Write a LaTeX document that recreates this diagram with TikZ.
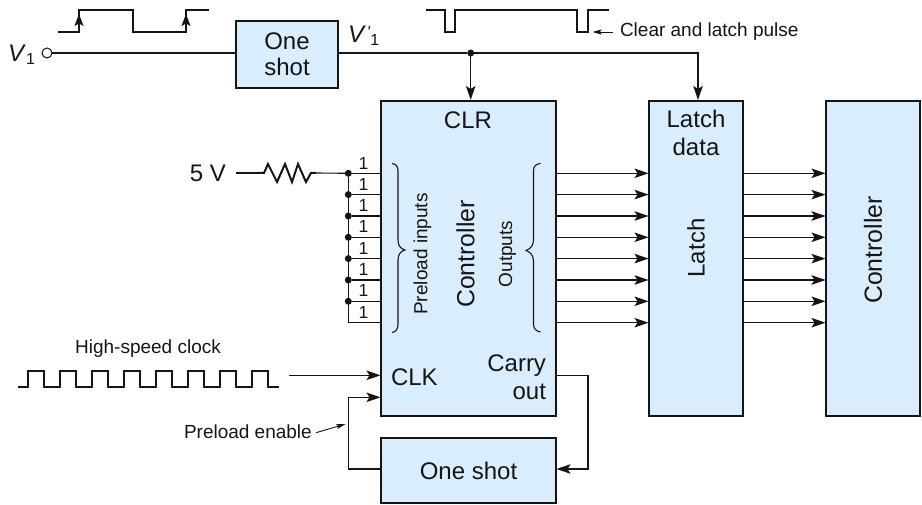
\documentclass[tikz,border=0pt]{standalone}
\usepackage{fontspec}
\setmainfont{Liberation Sans}
\usetikzlibrary{arrows.meta,decorations.pathreplacing,calc}
\definecolor{boxfill}{HTML}{DAEDFC}
\definecolor{ink}{HTML}{151515}
\tikzset{
  x=1pt,y=-1pt,
  every node/.style={inner sep=0pt,outer sep=0pt,text=ink},
  blockbox/.style={draw=ink,fill=boxfill,line width=2.3pt,anchor=north west,font=\fontsize{24}{26}\selectfont,align=center},
  wire/.style={draw=ink,line width=1.1pt},
  wave/.style={draw=ink,line width=2pt,miter limit=10},
  arr/.style={wire,-{Stealth[length=14pt,width=9.5pt,inset=3pt]}},
  thinarr/.style={draw=ink,line width=0.9pt,-{Stealth[length=9pt,width=5pt,inset=1.5pt]}},
  uparr/.style={draw=ink,line width=1pt,-{Stealth[length=12pt,width=9pt,inset=2.5pt]}},
  lbl/.style={font=\fontsize{24}{28}\selectfont},
  ctlbl/.style={font=\fontsize{24.8}{28}\selectfont},
  smalllbl/.style={font=\fontsize{19}{22}\selectfont},
  onelbl/.style={font=\fontsize{17.5}{20}\selectfont},
  junction/.style={circle,fill=ink,minimum size=7pt},
  bracecurve/.style={draw=ink,line width=1.1pt},
}
\begin{document}
\begin{tikzpicture}
\useasboundingbox (0,0) rectangle (922,505);
% blocks
\node[blockbox,minimum width=102pt,minimum height=67pt] (os1) at (236,21) {One\\shot};
\node[blockbox,minimum width=175pt,minimum height=315pt] (ctr) at (381,101) {};
\node[blockbox,minimum width=94pt,minimum height=315pt] (lat) at (649,101) {};
\node[blockbox,minimum width=94pt,minimum height=315pt] (out) at (826,101) {};
\node[blockbox,minimum width=175pt,minimum height=65pt] (os2) at (381,438) {One shot};
% block texts
\node[lbl] (clr) at (468,120) {CLR};
\node[ctlbl,rotate=90] (ctrt) at (465.5,254) {Controller};
\node[smalllbl,rotate=90] (pre) at (422.5,254) {Preload inputs};
\node[smalllbl,rotate=90] (outs) at (507.5,254) {Outputs};
\node[lbl,anchor=west] (clk) at (391,377) {CLK};
\node[lbl,anchor=east,align=right] (carry) at (546,377) {Carry\\out};
\node[lbl,align=center] (ld) at (696,133) {Latch\\data};
\node[lbl,rotate=90] (latt) at (696,248) {Latch};
\node[ctlbl,rotate=90] (outt) at (873,250) {Controller};
% V1 line
\node[circle,draw=ink,line width=1pt,minimum size=10pt] (v1c) at (47,53) {};
\node[anchor=east,font=\fontsize{24}{28}\selectfont] (v1) at (35,55) {\textit{V}\raisebox{-3pt}{\fontsize{16}{18}\selectfont 1}};
\node[anchor=west,font=\fontsize{24}{28}\selectfont] (v1p) at (348,36) {\textit{V}\raisebox{5pt}{\fontsize{16}{18}\selectfont\textit{\kern1pt ʹ}}\raisebox{-3pt}{\fontsize{16}{18}\selectfont 1}};
\draw[wire] (v1c.east) -- (236,53) coordinate (os1in);
\coordinate (os1out) at (338,53);
\node[junction] (j1) at (470.7,53) {};
\draw[wire] (os1out) -- (j1);
\coordinate (ctrclr) at (470.7,100);
\coordinate (latin) at (698,100);
\draw[arr] (j1) -- (ctrclr);
\draw[arr] (j1) -- (698,53) -- (latin);
% waveforms
\draw[wave] (58,32) -- (79,32) -- (79,10) -- (133,10) -- (133,32) -- (186,32) -- (186,10) -- (209,10);
\coordinate (a1s) at (79,27); \coordinate (a1e) at (79,14);
\coordinate (a2s) at (186,27); \coordinate (a2e) at (186,14);
\draw[uparr] (a1s) -- (a1e);
\draw[uparr] (a2s) -- (a2e);
\draw[wave] (426,10) -- (444.5,10) -- (444.5,32) -- (455,32) -- (455,10) -- (577,10) -- (577,32) -- (588,32) -- (588,10) -- (609,10);
\node[smalllbl,anchor=west] (clp) at (620,32) {Clear and latch pulse};
\coordinate (clpt) at (592.5,32);
\draw[thinarr] (612.5,32) -- (clpt);
% 5 V and resistor
\node[lbl,anchor=east] (fivev) at (226,173) {5 V};
\coordinate (r1) at (258,173);
\coordinate (r2) at (316,173);
\draw[wire] (236,173) -- (r1);
\draw[draw=ink,line width=2pt,line join=miter] (r1) -- (264,173) -- (268,164) -- (277,182) -- (285,164) -- (292,182) -- (298,164) -- (306,182) -- (311,173) -- (r2);
\node[junction] (b1) at (348.3,173.3) {};
\draw[wire] (r2) -- (b1);
\foreach \i/\yy in {1/173.3,2/194.6,3/216,4/237.3,5/258.6,6/280,7/301.3}{
  \ifnum\i>1 \node[junction] (b\i) at (348.3,\yy) {}; \fi
  \draw[wire] (b\i) -- (381,\yy);
}
\coordinate (b8) at (348.3,322.7);
\draw[wire] (b1) -- (b8) -- (381,322.7);
\foreach \i/\yy in {1/163,2/184.3,3/205.6,4/226.9,5/248.2,6/269.6,7/290.9,8/312.2}{
  \node[onelbl] (one\i) at (363.5,\yy) {1};
}
% braces
\draw[bracecurve] (392,163.5) .. controls (396,164) and (398,166) .. (398,171) -- (398,240) .. controls (398,246) and (401,249) .. (405,250) .. controls (401,251) and (398,254) .. (398,260) -- (398,324) .. controls (398,329) and (396,332) .. (392,332.5);
\draw[bracecurve] (540.5,163.5) .. controls (536,164) and (533.5,166) .. (533.5,171) -- (533.5,240) .. controls (533.5,246) and (530,249) .. (526,250.5) .. controls (530,252) and (533.5,255) .. (533.5,261) -- (533.5,324) .. controls (533.5,329) and (536,331) .. (540.5,332);
% bus arrows
\foreach \yy in {173.3,194.6,216,237.3,258.6,280,301.3,322.7}{
  \coordinate (p) at (556,\yy); \coordinate (q) at (648.5,\yy);
  \coordinate (r) at (743,\yy); \coordinate (s) at (825.5,\yy);
  \draw[arr] (p) -- (q);
  \draw[arr] (r) -- (s);
}
% clock
\node[smalllbl] (hsc) at (148,349) {High-speed clock};
\draw[wave] (18,386.7) -- (28,386.7) -- (28,370.7) -- (44,370.7) -- (44,386.7) -- (60,386.7) -- (60,370.7) -- (76,370.7) -- (76,386.7) -- (92,386.7) -- (92,370.7) -- (108,370.7) -- (108,386.7) -- (124,386.7) -- (124,370.7) -- (140,370.7) -- (140,386.7) -- (156,386.7) -- (156,370.7) -- (172,370.7) -- (172,386.7) -- (188,386.7) -- (188,370.7) -- (204,370.7) -- (204,386.7) -- (220,386.7) -- (220,370.7) -- (236,370.7) -- (236,386.7) -- (252,386.7) -- (252,370.7) -- (268,370.7) -- (268,386.7) -- (279,386.7);
\coordinate (cks) at (289,375.3);
\coordinate (ckin) at (380.5,375.3);
\draw[arr] (cks) -- (ckin);
% feedback
\coordinate (pein) at (380.5,397.3);
\coordinate (os2l) at (381,469);
\draw[arr] (os2l) -- (348.3,469) -- (348.3,397.3) -- (pein);
\coordinate (caout) at (556,375.7);
\coordinate (os2r) at (556.5,469);
\draw[arr] (caout) -- (588,375.7) -- (588,469) -- (os2r);
\node[smalllbl,anchor=west] (pe) at (184,431.7) {Preload enable};
\coordinate (pet) at (345.5,424);
\draw[thinarr] (316,432.7) -- (pet);
\end{tikzpicture}
\end{document}
